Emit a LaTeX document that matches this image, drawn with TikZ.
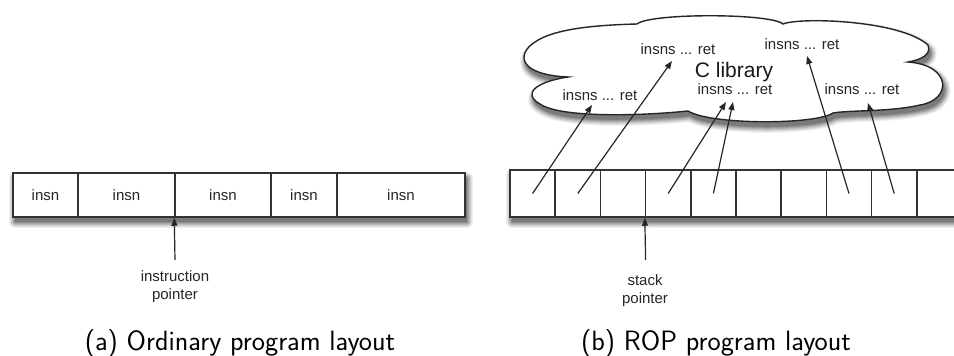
\documentclass[tikz,border=0pt]{standalone}
\usepackage{fontspec}
\newfontfamily\lab{Liberation Sans}
\usetikzlibrary{arrows.meta,calc}
\def\cloudpath{(568,77) .. controls (520,75) and (515,55) .. (535,42)
  .. controls (555,28) and (600,25) .. (637,24)
  .. controls (650,13) and (770,13) .. (783,24)
  .. controls (800,17) and (900,20) .. (928,45)
  .. controls (932,55) and (920,60) .. (908,62)
  .. controls (952,65) and (952,100) .. (920,105)
  .. controls (890,112) and (850,110) .. (833,113)
  .. controls (815,125) and (710,125) .. (688,111)
  .. controls (640,116) and (560,118) .. (540,104)
  .. controls (522,94) and (535,82) .. (568,77) -- cycle}
\begin{document}
\begin{tikzpicture}[x=1pt,y=-1pt,
  lbl/.style={font=\lab\fontsize{15}{18}\selectfont, text=black!85, inner sep=0pt, align=center},
  big/.style={font=\lab\fontsize{21}{24}\selectfont, text=black!90, inner sep=0pt},
  captxt/.style={font=\sffamily\fontsize{28}{32}\selectfont, inner sep=0pt, anchor=base},
  cellA/.style={draw=black!80, fill=white, line width=1.5pt, minimum height=44pt, inner sep=0pt, font=\lab\fontsize{15}{18}\selectfont, text=black!85},
  cellB/.style={draw=black!80, fill=white, line width=1.5pt, minimum height=47pt, minimum width=45.2pt, inner sep=0pt},
  arr/.style={draw=black!85, line width=1.2pt, -{Triangle[length=8pt,width=6pt]}},
]
\useasboundingbox (0,0) rectangle (954,356);

% ---------- shadows (layered greys) ----------
\foreach \w/\c in {12/6, 10/12, 8/19, 6/27, 4/35, 2/44} {
  \filldraw[black!\c, line width=\w pt, line join=round] (15,178) rectangle (467,222);
  \filldraw[black!\c, line width=\w pt, line join=round] (512,175) rectangle (964,222);
  \filldraw[shift={(2,5)}, black!\c, line width=\w pt, line join=round] \cloudpath;
}
\fill[black!52] (15,178) rectangle (467,222);
\fill[black!52] (512,175) rectangle (964,222);
\fill[shift={(2,5)}, black!52] \cloudpath;

% ---------- (a) ----------
\node[cellA, minimum width=65pt]  (a1) at (45.5,195) {insn};
\node[cellA, minimum width=97pt]  (a2) at (126.5,195) {insn};
\node[cellA, minimum width=96pt]  (a3) at (223,195) {insn};
\node[cellA, minimum width=66pt]  (a4) at (304,195) {insn};
\node[cellA, minimum width=128pt] (a5) at (401,195) {insn};
\node[lbl] (ip) at (175,287) {instruction\\pointer};
\coordinate (iptail) at (175,260);
\draw[arr] (iptail) -- (a3.south west);
\node[captxt] (capa) at (240,350) {(a) Ordinary program layout};

% ---------- (b) cloud ----------
\path[fill=white, draw=black!85, line width=1.4pt] \cloudpath;
\node[big] (clib) at (734,72) {C library};
\node[lbl] (t1) at (600,95) {insns ... ret};
\node[lbl] (t2) at (678,49) {insns ... ret};
\node[lbl] (t3) at (735,89) {insns ... ret};
\node[lbl] (t4) at (802,44) {insns ... ret};
\node[lbl] (t5) at (862,89) {insns ... ret};

% ---------- (b) stack ----------
\foreach \i in {1,...,10}
  \node[cellB] (b\i) at ({510+45.2*(\i-0.5)},193.5) {};

\coordinate (e1) at (592,105);
\coordinate (e2) at (672,61);
\coordinate (e3) at (726,102);
\coordinate (e4) at (733,102);
\coordinate (e5) at (807,56);
\coordinate (e6) at (868,103);
\draw[arr] (b1.center) -- (e1);
\draw[arr] (b2.center) -- (e2);
\draw[arr] (b4.center) -- (e3);
\draw[arr] (b5.center) -- (e4);
\draw[arr] (b8.center) -- (e5);
\draw[arr] (b9.center) -- (e6);

\node[lbl] (sp) at (645,291) {stack\\pointer};
\coordinate (sptail) at (645.6,260);
\draw[arr] (sptail) -- (b4.south west);
\node[captxt] (capb) at (716,350) {(b) ROP program layout};
\end{tikzpicture}
\end{document}
